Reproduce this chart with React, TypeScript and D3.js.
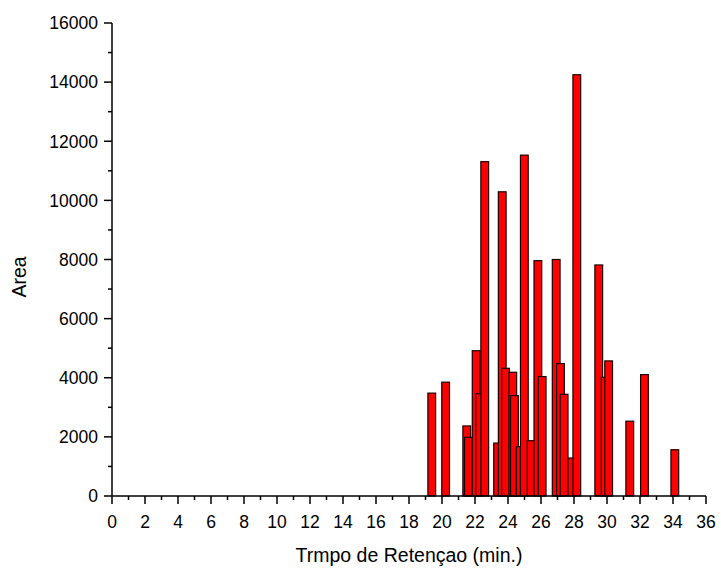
import React from "react";
import * as d3 from "d3";

const retentionTimes = [19.38, 20.22, 21.5, 21.6, 22.07, 22.28, 22.59, 23.37, 23.65, 23.85, 24.29, 24.39, 24.74, 24.99, 25.4, 25.81, 26.07, 26.92, 27.18, 27.4, 27.87, 28.17, 29.5, 29.89, 30.1, 31.38, 32.27, 34.11];
const areas = [3480, 3850, 2370, 1985, 4915, 3460, 11310, 1790, 10290, 4320, 4185, 3395, 1670, 11530, 1870, 7960, 4040, 8000, 4480, 3440, 1285, 14250, 7815, 4015, 4570, 2530, 4105, 1565];
const xTicks = d3.range(0, 37, 2);
const xMinorTicks = d3.range(1, 36, 2);
const yTicks = d3.range(0, 16001, 2000);
const yMinorTicks = d3.range(1000, 16000, 2000);
const xLabel = "Trmpo de Retençao (min.)";
const yLabel = "Area";

const W = 721, H = 572;
const left = 112, right = 706, top = 23, bottom = 496;
const barW = 0.47;

export default function App() {
  const x = d3.scaleLinear().domain([0, 36]).range([left, right]);
  const y = d3.scaleLinear().domain([0, 16000]).range([bottom, top]);
  const font = "'Liberation Sans', Arial, sans-serif";
  const bw = x(barW) - x(0);
  return (
    <svg width={W} height={H} style={{ position: "absolute", left: 0, top: 0, background: "#fff" }}>
      {retentionTimes.map((t, i) => (
        <rect
          key={i}
          x={x(t) - bw / 2}
          y={y(areas[i])}
          width={bw}
          height={y(0) - y(areas[i])}
          fill="#ff0000"
          stroke="#1a0000"
          strokeWidth={1.2}
        />
      ))}
      <line x1={left} x2={left} y1={top} y2={bottom} stroke="#000" strokeWidth={1.5} />
      <line x1={left} x2={right} y1={bottom} y2={bottom} stroke="#000" strokeWidth={1.5} />
      {yTicks.map((v) => (
        <g key={"y" + v}>
          <line x1={left - 8} x2={left} y1={y(v)} y2={y(v)} stroke="#000" strokeWidth={1.5} />
          <text x={left - 14} y={y(v)} dy="0.36em" textAnchor="end" fontFamily={font} fontSize={17.5} fill="#000">
            {v}
          </text>
        </g>
      ))}
      {yMinorTicks.map((v) => (
        <line key={"ym" + v} x1={left - 4} x2={left} y1={y(v)} y2={y(v)} stroke="#000" strokeWidth={1.5} />
      ))}
      {xTicks.map((v) => (
        <g key={"x" + v}>
          <line x1={x(v)} x2={x(v)} y1={bottom} y2={bottom + 8} stroke="#000" strokeWidth={1.5} />
          <text x={x(v)} y={bottom + 32} textAnchor="middle" fontFamily={font} fontSize={17.5} fill="#000">
            {v}
          </text>
        </g>
      ))}
      {xMinorTicks.map((v) => (
        <line key={"xm" + v} x1={x(v)} x2={x(v)} y1={bottom} y2={bottom + 4} stroke="#000" strokeWidth={1.5} />
      ))}
      <text x={(left + right) / 2} y={562} textAnchor="middle" fontFamily={font} fontSize={19.5} fill="#000">
        {xLabel}
      </text>
      <text
        transform={`translate(26, 277) rotate(-90)`}
        textAnchor="middle"
        fontFamily={font}
        fontSize={19.5}
        fill="#000"
      >
        {yLabel}
      </text>
    </svg>
  );
}
